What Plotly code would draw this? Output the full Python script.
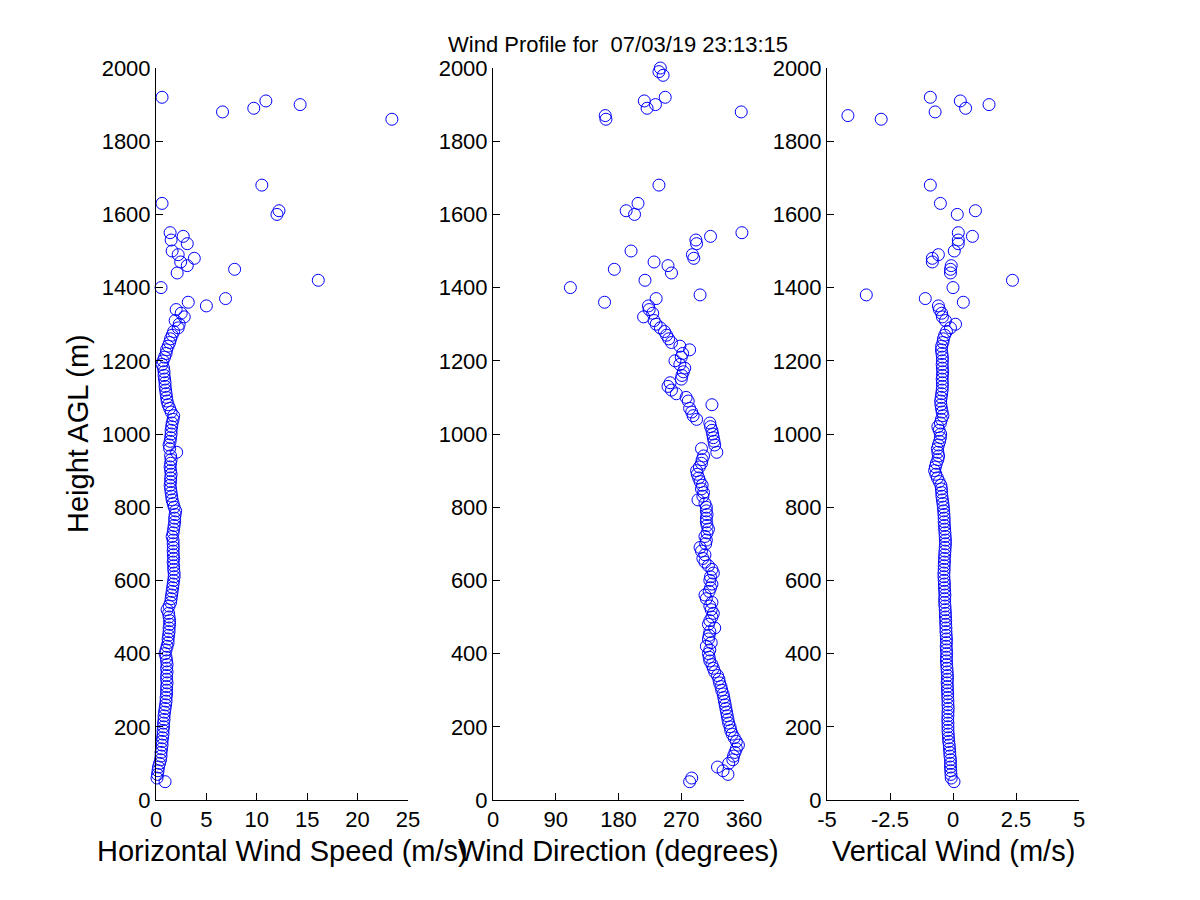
import plotly.graph_objects as go
from plotly.subplots import make_subplots

# heights of the profile gates (m AGL)
heights_m = [
    50, 60, 70, 80, 90, 100, 110, 120, 130, 140,
    150, 160, 170, 180, 190, 200, 210, 220, 230, 240,
    250, 260, 270, 280, 290, 300, 310, 320, 330, 340,
    350, 360, 370, 380, 390, 400, 410, 420, 430, 440,
    450, 460, 470, 480, 490, 500, 510, 520, 530, 540,
    550, 560, 570, 580, 590, 600, 610, 620, 630, 640,
    650, 660, 670, 680, 690, 700, 710, 720, 730, 740,
    750, 760, 770, 780, 790, 800, 810, 820, 830, 840,
    850, 860, 870, 880, 890, 900, 910, 920, 930, 940,
    950, 960, 970, 980, 990, 1000, 1010, 1020, 1030, 1040,
    1050, 1060, 1070, 1080, 1090, 1100, 1110, 1120, 1130, 1140,
    1150, 1160, 1170, 1180, 1190, 1200, 1210, 1220, 1230, 1240,
    1250, 1260, 1270, 1280, 1290,
    1300, 1310, 1320, 1330, 1340, 1350, 1360, 1370, 1380, 1400,
    1420, 1440, 1450, 1460, 1470, 1480, 1490, 1500, 1520, 1530,
    1540, 1550, 1600, 1610, 1630, 1680, 1860, 1870, 1880, 1890,
    1900, 1910, 1920, 1980, 1990, 2000,
]

# horizontal wind speed (m/s)
speed_ms = [
    0.9, 0.1, 0.15, 0.2, 0.25, 0.35, 0.45, 0.5, 0.5, 0.55,
    0.6, 0.6, 0.65, 0.7, 0.7, 0.75, 0.75, 0.8, 0.8, 0.85,
    0.9, 0.95, 1.0, 1.0, 1.05, 1.05, 1.05, 1.1, 1.05, 1.05,
    1.1, 1.05, 1.1, 1.05, 1.0, 0.9, 1.0, 1.1, 1.2, 1.2,
    1.25, 1.3, 1.3, 1.35, 1.35, 1.3, 1.25, 1.1, 1.3, 1.45,
    1.5, 1.55, 1.6, 1.65, 1.7, 1.75, 1.8, 1.8, 1.75, 1.75,
    1.7, 1.75, 1.72, 1.7, 1.72, 1.7, 1.7, 1.6, 1.7, 1.75,
    1.8, 1.85, 1.85, 1.9, 1.95, 1.8, 1.7, 1.6, 1.55, 1.5,
    1.45, 1.4, 1.45, 1.45, 1.5, 1.45, 1.4, 1.45, 1.5, 1.45,
    2.05, 1.35, 1.3, 1.4, 1.45, 1.5, 1.5, 1.55, 1.6, 1.7,
    1.75, 1.5, 1.35, 1.2, 1.1, 1.05, 1.0, 0.95, 0.9, 0.9,
    0.85, 0.8, 0.8, 0.75, 0.6, 0.7, 0.85, 1.0, 1.05, 1.2,
    1.35, 1.45, 1.6, 1.75, 2.2,
    2.3, 1.9, 2.8, 2.5, 2.0, 5.0, 3.2, 6.9, None, 0.5,
    16.1, 2.1, 7.8, 3.1, 2.45, 3.8, 2.2, 1.6, 3.1, 1.5,
    2.7, 1.4, 12.0, 12.2, 0.6, 10.5, 23.4, None, 6.6, 9.7,
    14.3, 10.9, 0.6, None, None, None,
]

# wind direction (degrees)
direction_deg = [
    282, 285, 337, 330, 322, 338, 344, 345, 347, 349,
    352, 349, 346, 343, 341, 340, 338, 337, 336, 335,
    334, 333, 332, 331, 330, 328, 327, 325, 324, 322,
    318, 316, 314, 311, 310, 309, 311, 306, 313, 309,
    310, 311, 318, 309, 311, 314, 316, 313, 311, 314,
    306, 304, 310, 312, 314, 311, 312, 316, 314, 309,
    304, 301, 304, 299, 297, 305, 306, 304, 307, 309,
    307, 306, 306, 307, 306, 306, 304, 294, 301, 302,
    299, 300, 297, 295, 293, 292, 296, 299, 300, 302,
    321, 299, 318, 317, 316, 315, 314, 312, 311, 292,
    287, 285, 282, 314, 280, 277, 263, 256, 251, 254,
    270, 271, 273, 275, 268, 261, 270, 272, 282, 268,
    256, 252, 249, 246, 240,
    234, 231, 216, 229, 224, 223, 160, 234, 297, 111,
    218, 256, 174, 251, 231, 288, 286, 198, 292, 291,
    312, 357, 203, 191, 208, 238, 162, 161, 356, 221,
    233, 217, 247, 244, 238, 240,
]

# vertical wind (m/s)
vertical_ms = [
    0.04, -0.07, -0.08, -0.09, -0.1, -0.1, -0.1, -0.12, -0.13, -0.14,
    -0.15, -0.17, -0.18, -0.19, -0.2, -0.2, -0.2, -0.21, -0.2, -0.2,
    -0.19, -0.2, -0.2, -0.21, -0.21, -0.22, -0.22, -0.23, -0.22, -0.22,
    -0.23, -0.24, -0.25, -0.26, -0.26, -0.25, -0.26, -0.27, -0.26, -0.26,
    -0.27, -0.28, -0.28, -0.29, -0.29, -0.3, -0.3, -0.31, -0.32, -0.33,
    -0.33, -0.32, -0.33, -0.34, -0.34, -0.35, -0.36, -0.36, -0.35, -0.35,
    -0.34, -0.34, -0.33, -0.32, -0.31, -0.3, -0.3, -0.31, -0.32, -0.33,
    -0.34, -0.35, -0.35, -0.36, -0.37, -0.38, -0.4, -0.42, -0.44, -0.45,
    -0.46, -0.48, -0.55, -0.62, -0.68, -0.73, -0.7, -0.66, -0.6, -0.57,
    -0.6, -0.62, -0.58, -0.53, -0.5, -0.49, -0.55, -0.6, -0.5, -0.46,
    -0.4, -0.43, -0.46, -0.48, -0.49, -0.47, -0.45, -0.43, -0.42, -0.42,
    -0.43, -0.42, -0.41, -0.42, -0.43, -0.42, -0.42, -0.44, -0.46, -0.45,
    -0.4, -0.38, -0.33, -0.26, -0.1,
    0.1, -0.3, -0.42, -0.45, -0.54, -0.58, 0.41, -1.1, -3.44, 0.0,
    2.36, -0.1, -0.1, -0.07, -0.82, -0.82, -0.58, 0.05, 0.21, 0.21,
    0.77, 0.21, 0.17, 0.89, -0.5, -0.9, -2.85, -4.17, -0.71, 0.5,
    1.43, 0.29, -0.9, None, None, None,
]

speed_ticks = [0, 5, 10, 15, 20, 25]
dir_ticks = [0, 90, 180, 270, 360]
vert_ticks = [-5, -2.5, 0, 2.5, 5]
vert_ticktext = ["-5", "-2.5", "0", "2.5", "5"]
height_ticks = [0, 200, 400, 600, 800, 1000, 1200, 1400, 1600, 1800, 2000]

title_text = "Wind Profile for \u00a007/03/19 23:13:15"

FONT = "Liberation Sans, Arial, sans-serif"
W, H = 1200, 900
OFF = 8  # the page body adds an 8px margin, pull everything back by that


def px_x(x):
    return (x - OFF) / W


def px_y(y):
    return (H - (y - OFF)) / H


fig = make_subplots(rows=1, cols=3)

marker = dict(symbol="circle-open", size=12, color="#0000ff", line=dict(width=1, color="#0000ff"))
for col, xs in enumerate([speed_ms, direction_deg, vertical_ms], start=1):
    fig.add_trace(go.Scatter(x=xs, y=heights_m, mode="markers", marker=marker,
                             cliponaxis=False, showlegend=False), row=1, col=col)

x_domains = [[px_x(156), px_x(408)], [px_x(493), px_x(744)], [px_x(827), px_x(1079)]]
y_domain = [px_y(800), px_y(68)]
x_ranges = [[0, 25], [0, 360], [-5, 5]]
x_ticks = [speed_ticks, dir_ticks, vert_ticks]
x_ticktext = [[str(t) for t in speed_ticks], [str(t) for t in dir_ticks], vert_ticktext]

axis_style = dict(showline=True, linecolor="black", linewidth=1, ticks="inside", ticklen=7,
                  tickcolor="black", tickwidth=1, showgrid=False, zeroline=False, mirror=False,
                  automargin=False, tickfont=dict(family=FONT, size=22, color="black"))

for i in range(3):
    fig.update_xaxes(domain=x_domains[i], range=x_ranges[i], tickmode="array",
                     tickvals=x_ticks[i], ticktext=x_ticktext[i], row=1, col=i + 1, **axis_style)
    fig.update_yaxes(domain=y_domain, range=[0, 2000], tickmode="array", tickvals=height_ticks,
                     row=1, col=i + 1, **axis_style)

x_titles = ["Horizontal Wind Speed (m/s)", "Wind Direction (degrees)", "Vertical Wind (m/s)"]
annotations = []
for i, t in enumerate(x_titles):
    annotations.append(dict(text=t, x=(x_domains[i][0] + x_domains[i][1]) / 2, y=px_y(851),
                            xref="paper", yref="paper", xanchor="center", yanchor="middle",
                            showarrow=False, font=dict(family=FONT, size=29, color="black")))
annotations.append(dict(text="Height AGL (m)", x=px_x(78), y=px_y(434), textangle=-90,
                        xref="paper", yref="paper", xanchor="center", yanchor="middle",
                        showarrow=False, font=dict(family=FONT, size=29, color="black")))
annotations.append(dict(text=title_text, x=px_x(618), y=px_y(44),
                        xref="paper", yref="paper", xanchor="center", yanchor="middle",
                        showarrow=False, font=dict(family=FONT, size=22, color="black")))

fig.update_layout(
    width=W, height=H,
    margin=dict(l=0, r=0, t=0, b=0, autoexpand=False),
    paper_bgcolor="white", plot_bgcolor="white",
    annotations=annotations,
    font=dict(family=FONT, color="black"),
)

fig.write_html("out.html")
